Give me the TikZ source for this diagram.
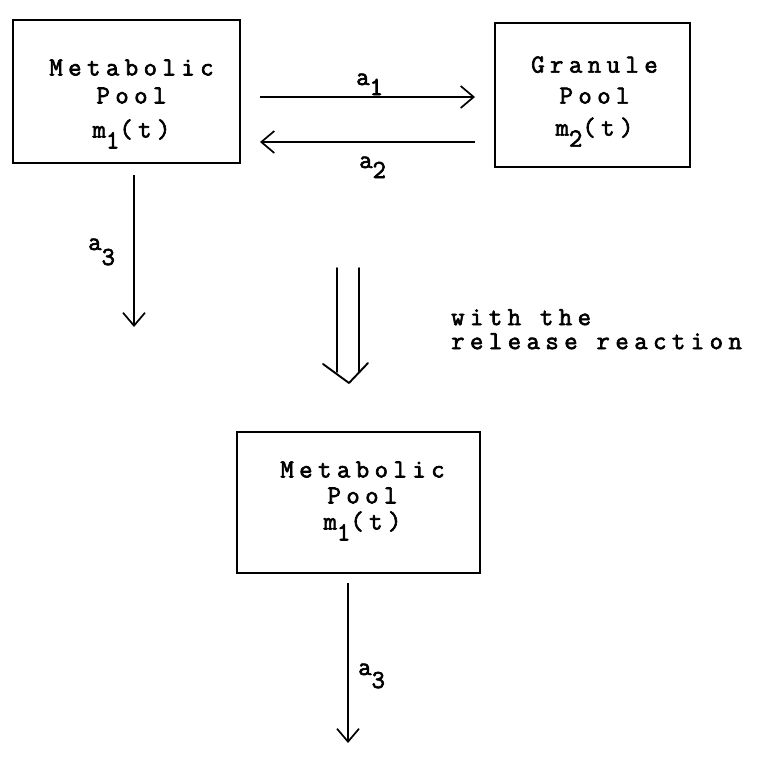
\documentclass[tikz,border=0pt]{standalone}
\usepackage{fontspec}
\usetikzlibrary{arrows.meta, calc}
\newfontfamily\typefont{Latin Modern Mono}[LetterSpace=21, FakeBold=2.5]
\newcommand\typew{\typefont\fontsize{26}{28}\selectfont}
\newcommand\lowsub[2][10pt]{\raisebox{-#1}{#2}}
\tikzset{
  pool/.style = {
    draw, line width=2pt,
    inner sep=0pt, outer sep=0pt
  },
  pooltxt/.style = {font=\typew, align=center, inner sep=0pt},
  lbl/.style  = {font=\typew, inner sep=0pt},
  flow/.style = {-{Straight Barb[length=13pt,width=22pt]}, line width=1.7pt},
  dbl/.style  = {line width=1.9pt, line cap=round, line join=round}
}

\begin{document}
\begin{tikzpicture}[x=1pt, y=-1pt]
  \useasboundingbox (0, 0) rectangle (767, 761);
  %% Compartments
  \node[pool, minimum width=227pt, minimum height=143pt] (metab) at (126.5, 91.5) {};
  \node[pool, minimum width=195pt, minimum height=144pt] (gran)  at (592.5, 95.0) {};
  \node[pool, minimum width=243pt, minimum height=141pt] (rel)   at (358.5, 502.5) {};

  %% Compartment texts
  \node[pooltxt, xshift=5pt, yshift=-12.5pt] (metabtxt) at (metab.center)
    {Metabolic\\Pool\\[6pt]m\lowsub[11pt]{1}(t)};
  \node[pooltxt, xshift=2pt, yshift=-6.5pt] (grantxt) at (gran.center)
    {Granule\\[3pt]Pool\\[4pt]m\lowsub[11pt]{2}(t)};
  \node[pooltxt, xshift=4pt, yshift=1.5pt] (reltxt) at (rel.center)
    {Metabolic\\[-2pt]Pool\\[-2pt]m\lowsub[11pt]{1}(t)};

  %% Exchange between the pools
  \draw[flow, shorten <=20pt, shorten >=20pt]
    ([yshift=-5.5pt]metab.east) -- ([yshift=-5.5pt]metab.east -| gran.west);
  \draw[flow, shorten <=20pt, shorten >=20pt]
    ([yshift=-50.5pt]metab.east -| gran.west) -- ([yshift=-50.5pt]metab.east);
  \node[lbl, anchor=base west] (a1) at (356, 85) {a\lowsub{1}};
  \node[lbl, anchor=base west] (a2) at (359, 168) {a\lowsub{2}};

  %% Loss from the metabolic pool
  \coordinate (out1) at (134, 327);
  \coordinate (out2) at (348, 743);
  \draw[flow, shorten <=12pt] ([xshift=7.5pt]metab.south) -- (out1);
  \node[lbl, anchor=base west] (a3top) at (88, 250) {a\lowsub[15pt]{3}};
  \draw[flow, shorten <=10pt] ([xshift=-10.5pt]rel.south) -- (out2);
  \node[lbl, anchor=base west] (a3bot) at (358, 675) {a\lowsub[13pt]{3}};

  %% Double arrow to the reduced model
  \coordinate (dtop) at (348, 268);
  \draw[dbl] ($(dtop)+(-11,0)$) -- ++(0,104);
  \draw[dbl] ($(dtop)+(11,0)$) -- ++(0,104);
  \draw[dbl] ($(dtop)+(-25,96)$) -- ($(dtop)+(1,115)$) -- ($(dtop)+(20,95)$);
  \node[lbl, align=left, anchor=north west, font=\typew\fontsize{26}{24}\selectfont]
    (note) at (451, 309) {with the\\release reaction};

\end{tikzpicture}
\end{document}
